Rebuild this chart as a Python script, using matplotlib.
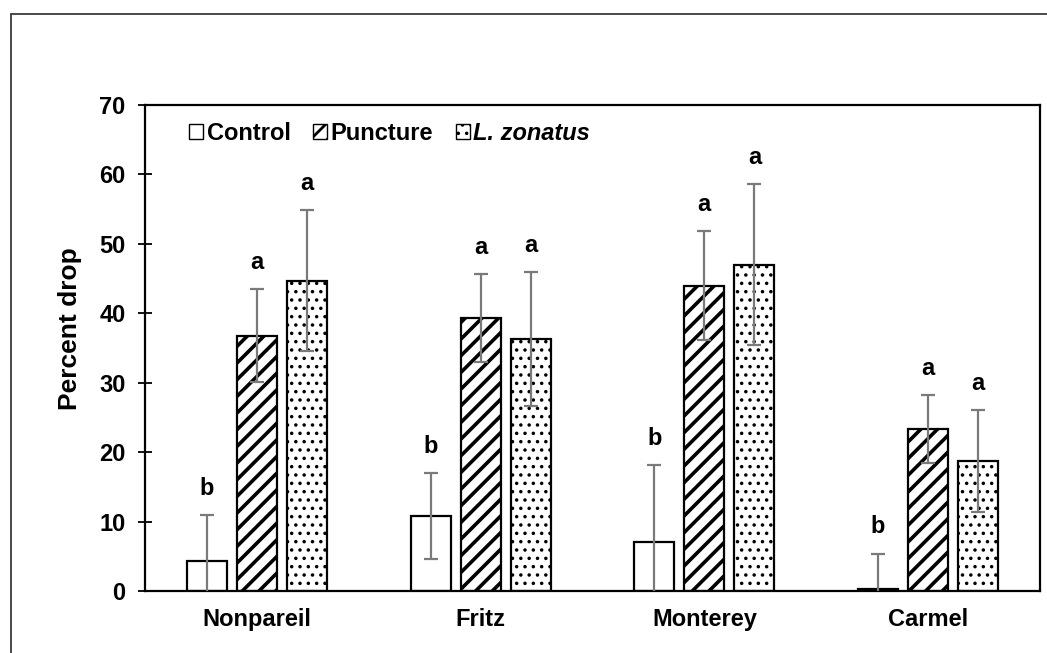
import numpy as np
import matplotlib
matplotlib.use("Agg")
import matplotlib.pyplot as plt
from matplotlib.patches import Rectangle

# ---- data ----
categories = ["Nonpareil", "Fritz", "Monterey", "Carmel"]
series_names = ["Control", "Puncture", "L. zonatus"]
control = [4.3, 10.8, 7.0, 0.3]
control_err = [6.6, 6.2, 11.1, 5.1]
puncture = [36.8, 39.3, 44.0, 23.3]
puncture_err = [6.7, 6.3, 7.8, 4.9]
lzonatus = [44.7, 36.3, 47.0, 18.7]
lzonatus_err = [10.2, 9.6, 11.6, 7.3]
control_letters = ["b", "b", "b", "b"]
puncture_letters = ["a", "a", "a", "a"]
lzonatus_letters = ["a", "a", "a", "a"]
yticks = [0, 10, 20, 30, 40, 50, 60, 70]

plt.rcParams["font.family"] = ["Liberation Sans", "DejaVu Sans"]
plt.rcParams["font.weight"] = "bold"
plt.rcParams["hatch.color"] = "black"

W, H = 1047, 653
fig = plt.figure(figsize=(W / 100, H / 100), dpi=100)
fig.patch.set_facecolor("white")

# figure border (partially outside image)
fig.patches.append(Rectangle((11 / W, -0.2), 1.3, (1 - 14 / H) + 0.2,
                             transform=fig.transFigure, fill=False,
                             edgecolor="#3a3a3a", linewidth=1.3))

ax = fig.add_axes([145 / W, 62 / H, 895 / W, 486 / H])

FS = 17
x = np.arange(len(categories))
offset = 0.2235
width = 0.179
series = [
    (control, control_err, control_letters, None, 1.0),
    (puncture, puncture_err, puncture_letters, "//", 2.6),
    (lzonatus, lzonatus_err, lzonatus_letters, "..", 1.3),
]
handles = []
hlws = []
for i, (vals, errs, letters, hatch, hlw) in enumerate(series):
    pos = x + (i - 1) * offset
    with plt.rc_context({"hatch.linewidth": hlw}):
        bars = ax.bar(pos, vals, width, color="white", edgecolor="black",
                      linewidth=1.6, hatch=hatch,
                      label=series_names[i], zorder=2)
    for b in bars:
        if hasattr(b, "set_hatch_linewidth"):
            b.set_hatch_linewidth(hlw)
    ax.errorbar(pos, vals, yerr=errs, fmt="none", ecolor="#7a7a7a",
                elinewidth=1.6, capsize=5, capthick=1.6, zorder=3)
    for p, v, e, t in zip(pos, vals, errs, letters):
        ax.text(p, v + e + 2.9, t, ha="center", va="baseline",
                fontsize=FS, fontweight="bold")
    handles.append(bars)
    hlws.append(hlw)

ax.set_xlim(-0.5, len(categories) - 0.5)
ax.set_ylim(0, 70)
ax.set_yticks(yticks)
ax.set_yticklabels([str(t) for t in yticks], fontsize=FS, fontweight="bold")
ax.set_xticks(x)
ax.set_xticklabels(categories, fontsize=FS, fontweight="bold")
ax.tick_params(axis="x", length=0, pad=12)
ax.tick_params(axis="y", direction="inout", length=10, width=1.3, pad=9)
for s in ax.spines.values():
    s.set_linewidth(1.6)
    s.set_color("black")

ax.set_ylabel("Percent drop", fontsize=19, fontweight="bold")
ax.yaxis.set_label_coords(-0.07, 0.539)

leg = ax.legend(handles=handles, labels=series_names, loc="center left",
                bbox_to_anchor=(0.049, 0.942), ncol=3, frameon=False,
                borderpad=0, borderaxespad=0, handlelength=0.6,
                handleheight=0.6, handletextpad=0.15, columnspacing=0.95,
                prop={"size": FS, "weight": "bold"})
for t in leg.get_texts():
    if t.get_text() == "L. zonatus":
        t.set_fontstyle("italic")
for h, hlw in zip(leg.legend_handles, hlws):
    h.set_linewidth(1.0)
    if hasattr(h, "set_hatch_linewidth"):
        h.set_hatch_linewidth(min(hlw, 2.0))

fig.savefig("out.png", dpi=100)
